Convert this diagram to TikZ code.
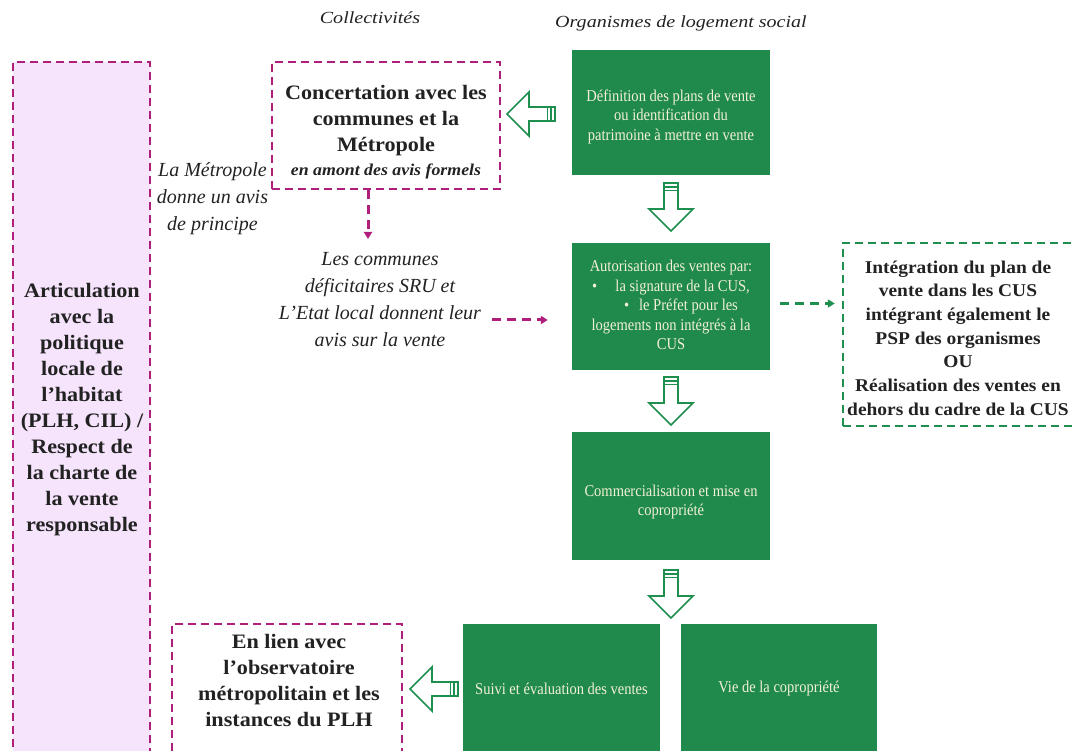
\documentclass[tikz,border=0pt]{standalone}
\usepackage{fontspec}
\setmainfont{Liberation Serif}
\newfontfamily\condfont[FakeStretch=0.88]{Liberation Serif}
\newfontfamily\widefont[FakeStretch=1.08]{Liberation Serif}
\newfontfamily\hdrfont[FakeStretch=1.18]{Liberation Serif}
\usetikzlibrary{arrows.meta}
\definecolor{gfill}{HTML}{1F8A4C}
\definecolor{gtext}{HTML}{F3F1D2}
\definecolor{mag}{HTML}{B01E7C}
\definecolor{pinkfill}{HTML}{F5E4FB}
\definecolor{gline}{HTML}{1E8F4E}
\definecolor{ink}{HTML}{222222}
\tikzset{
  greenbox/.style={fill=gfill, draw=none, minimum width=198pt, inner sep=0pt},
  gtxt/.style={text=gtext, font=\condfont\fontsize{16.5}{19.5}\selectfont, align=center, inner sep=0pt},
  magbox/.style={draw=mag, line width=2.8pt, dash pattern=on 8pt off 5pt, inner sep=0pt},
  gdashbox/.style={draw=gline, line width=2.4pt, dash pattern=on 8pt off 5pt, inner sep=0pt},
  boldtxt/.style={text=ink, font=\widefont\bfseries\fontsize{20.5}{26}\selectfont, align=center, inner sep=0pt},
  rboldtxt/.style={text=ink, font=\widefont\bfseries\fontsize{18}{23.7}\selectfont, align=center, inner sep=0pt},
  italtxt/.style={text=ink, font=\itshape\fontsize{20}{27}\selectfont, align=center, inner sep=0pt},
  hdrtxt/.style={text=ink, font=\hdrfont\itshape\fontsize{17}{20}\selectfont, inner sep=0pt},
  magarrow/.style={draw=mag, line width=3pt, dash pattern=on 9pt off 6pt, -{Triangle[length=7pt,width=8pt]}},
  garrow/.style={draw=gline, line width=3pt, dash pattern=on 9pt off 6pt, -{Triangle[length=7pt,width=8pt]}},
  hollow/.pic={
    \draw[gline, line width=1.7pt, fill=white, line join=miter]
      (-7,0) -- (7,0) -- (7,26) -- (22,26) -- (0,48) -- (-22,26) -- (-7,26) -- cycle;
    \draw[gline, line width=1.2pt] (-7,4) -- (7,4) (-7,7.5) -- (7,7.5);
  }
}
\begin{document}
\begin{tikzpicture}[x=1pt,y=-1pt]
\useasboundingbox (0,0) rectangle (1072,751);
\clip (0,0) rectangle (1072,751);

% headers
\node[hdrtxt] (hcoll) at (370,18) {Collectivités};
\node[hdrtxt] (horg) at (681,23) {Organismes de logement social};

% left column
\node[magbox, fill=pinkfill, minimum width=137pt, minimum height=700pt] (artic) at (81.5,412) {};
\node[boldtxt] (artictxt) at (82,409.5) {Articulation\\avec la\\politique\\locale de\\l’habitat\\(PLH, CIL) /\\Respect de\\la charte de\\la vente\\responsable};

% concertation
\node[magbox, minimum width=228pt, minimum height=127pt] (conc) at (386,125.5) {};
\node[boldtxt] (conctxt) at (386,132) {Concertation avec les\\communes et la\\Métropole\\[-2pt]{\fontsize{16.5}{18}\selectfont\itshape en amont des avis formels}};

\node[italtxt] (metro) at (212.5,199) {La Métropole\\donne un avis\\de principe};
\node[italtxt] (communes) at (380,300) {Les communes\\déficitaires SRU et\\L’Etat local donnent leur\\avis sur la vente};

% green boxes
\node[greenbox, minimum height=125pt] (g1) at (671,112.5) {};
\node[gtxt] (g1t) at (671,116.5) {Définition des plans de vente\\ou identification du\\patrimoine à mettre en vente};

\node[greenbox, minimum height=127pt] (g2) at (671,306.5) {};
\node[gtxt] (g2t) at (671,305) {Autorisation des ventes par:\\•\hspace{1.1em}la signature de la CUS,\\\hspace*{20pt}•\hspace{0.6em}le Préfet pour les\\logements non intégrés à la\\CUS};

\node[greenbox, minimum height=128pt] (g3) at (671,496) {};
\node[gtxt] (g3t) at (671,502) {Commercialisation et mise en\\copropriété};

\node[greenbox, minimum width=197pt, minimum height=136pt] (g4) at (561.5,692) {};
\node[gtxt] (g4t) at (561.5,689) {Suivi et évaluation des ventes};
\node[greenbox, minimum width=196pt, minimum height=136pt] (g5) at (779,692) {};
\node[gtxt] (g5t) at (779,689) {Vie de la copropriété};

% right dashed box
\node[gdashbox, minimum width=250pt, minimum height=183pt] (intg) at (968,334.5) {};
\node[rboldtxt] (intgtxt) at (958,338) {Intégration du plan de\\vente dans les CUS\\intégrant également le\\PSP des organismes\\OU\\Réalisation des ventes en\\dehors du cadre de la CUS};

% bottom-left dashed box
\node[magbox, minimum width=230pt, minimum height=136pt] (lien) at (287,692) {};
\node[boldtxt] (lientxt) at (289,681) {En lien avec\\l’observatoire\\métropolitain et les\\instances du PLH};

% hollow arrows
\pic[rotate=-90] at (555,114) {hollow};
\pic at (671,183) {hollow};
\pic at (671,377) {hollow};
\pic at (671,570) {hollow};
\pic[rotate=-90] at (458,689) {hollow};

% dashed connectors
\coordinate (cend) at (368,239);
\draw[magarrow] (conc.south -| cend) -- (cend);
\coordinate (ma1) at (492,320);
\draw[magarrow, shorten >=24pt] (ma1) -- (ma1 -| g2.west);
\draw[garrow, shorten <=10pt, shorten >=7pt] ([yshift=3pt]g2.east) -- ([yshift=3pt]g2.east -| intg.west);
\end{tikzpicture}
\end{document}
